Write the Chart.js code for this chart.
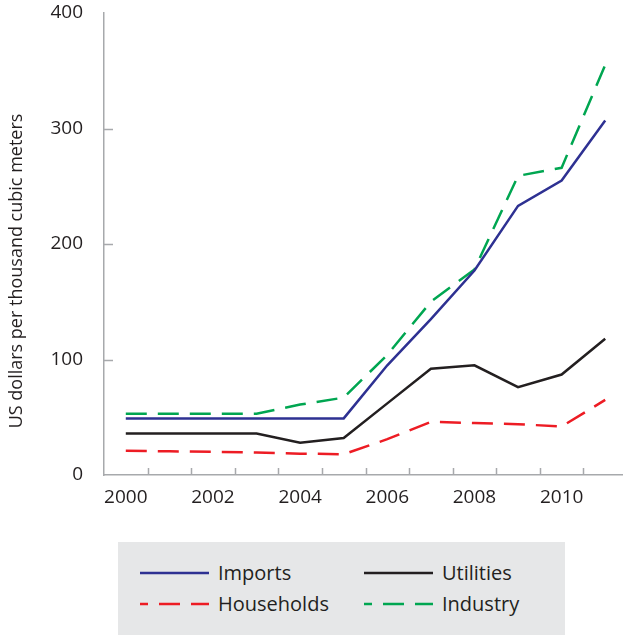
<!DOCTYPE html>
<html>
<head>
<meta charset="utf-8">
<script src="https://cdn.jsdelivr.net/npm/chart.js@4"></script>
<style>
  html, body { margin: 0; padding: 0; background: #fff; overflow: hidden; }
  #wrap { position: relative; width: 623px; height: 635px; overflow: hidden; }
  #chart-box { position: absolute; left: 0; top: 0; width: 640px; height: 540px; }
  #legend { position: absolute; left: 118px; top: 542px; width: 447px; height: 93px; background: #e6e7e8;
            font-family: "Open Sans", sans-serif; font-size: 20px; color: #231f20; }
  .leg-item { position: absolute; height: 26px; line-height: 26px; white-space: nowrap; }
  .leg-item svg { position: absolute; left: 0; top: 9px; }
  .leg-item span { position: absolute; left: 78px; top: 0; }
</style>
</head>
<body>
<div id="wrap">
  <div id="chart-box"><canvas id="gas-chart" width="640" height="540"></canvas></div>
  <div id="legend"></div>
</div>
<script>
// years on the x axis (labels drawn for even years only)
const years = ['2000', '2001', '2002', '2003', '2004', '2005', '2006', '2007', '2008', '2009', '2010', '2011'];

// US dollars per thousand cubic meters
const imports    = [49, 49, 49, 49, 49, 49, 95, 135, 177, 233, 255, 307];
const utilities  = [36, 36, 36, 36, 28, 32, 62, 92, 95, 76, 87, 118];
const households = [21, 20.5, 20, 19.5, 18.5, 18, 31, 46, 45, 44, 42, 65];
const industry   = [53, 53, 53, 53, 61, 67, 104, 150, 178, 259, 266, 355];

const yTicks = [0, 100, 200, 300, 400];

const seriesNames = ['Imports', 'Utilities', 'Households', 'Industry'];
const seriesColors = ['#2e3192', '#231f20', '#ed1c24', '#00a651'];
const seriesDash = [[], [], [21, 11], [21, 11]];
const seriesData = [imports, utilities, households, industry];

const axisColor = '#a7a9ac';
const textColor = '#231f20';
const fontFamily = '"Open Sans", sans-serif';

// inward tick marks + rotated y title
const axisExtras = {
    id: 'axisExtras',
    afterDraw(chart) {
        const { ctx, chartArea, scales } = chart;
        ctx.save();
        ctx.strokeStyle = axisColor;
        ctx.lineWidth = 1.5;
        ctx.beginPath();
        yTicks.slice(1, -1).forEach(v => {
            const y = Math.round(scales.y.getPixelForValue(v)) + 0.5;
            ctx.moveTo(chartArea.left, y);
            ctx.lineTo(chartArea.left + 9, y);
        });
        for (let k = 1; k < years.length; k++) {
            const x = Math.round((scales.x.getPixelForTick(k - 1) + scales.x.getPixelForTick(k)) / 2) + 0.5;
            ctx.moveTo(x, chartArea.bottom);
            ctx.lineTo(x, chartArea.bottom - 7);
        }
        ctx.stroke();

        ctx.translate(17, 271);
        ctx.rotate(-Math.PI / 2);
        ctx.textAlign = 'center';
        ctx.textBaseline = 'middle';
        ctx.fillStyle = textColor;
        ctx.font = '18px ' + fontFamily;
        ctx.fillText('US dollars per thousand cubic meters', 0, 0);
        ctx.restore();
    }
};

new Chart(document.getElementById('gas-chart'), {
    type: 'line',
    data: {
        labels: years,
        datasets: seriesNames.map((name, i) => ({
            label: name,
            data: seriesData[i],
            borderColor: seriesColors[i],
            backgroundColor: seriesColors[i],
            borderDash: seriesDash[i],
            borderWidth: 2.5,
            pointRadius: 0,
            tension: 0,
            fill: false
        }))
    },
    options: {
        responsive: false,
        animation: false,
        layout: { padding: { top: 13, right: 13, left: 0, bottom: 0 } },
        plugins: {
            legend: { display: false },
            tooltip: { enabled: false }
        },
        scales: {
            x: {
                type: 'category',
                offset: true,
                grid: { display: false, drawTicks: false },
                border: { display: true, color: axisColor, width: 1.5 },
                ticks: {
                    autoSkip: false,
                    maxRotation: 0,
                    padding: 11,
                    color: textColor,
                    font: { family: fontFamily, size: 19 },
                    callback: (v, i) => (i % 2 === 0 ? years[i] : '')
                },
                afterFit: s => { s.height = 65; s.paddingLeft = 0; s.paddingRight = 0; }
            },
            y: {
                min: 0,
                max: 400,
                grid: { display: false, drawTicks: false },
                border: { display: true, color: axisColor, width: 1.5 },
                ticks: {
                    stepSize: 100,
                    padding: 21,
                    color: textColor,
                    font: { family: fontFamily, size: 19 }
                },
                afterFit: s => { s.width = 104; s.paddingTop = 0; s.paddingBottom = 0; }
            }
        }
    },
    plugins: [axisExtras]
});

// legend: two columns, order as in the reference
const legendPos = [[22, 18], [246, 18], [22, 49], [246, 49]];
const legendEl = document.getElementById('legend');
seriesNames.forEach((name, idx) => {
    const item = document.createElement('div');
    item.className = 'leg-item';
    item.style.left = legendPos[idx][0] + 'px';
    item.style.top = legendPos[idx][1] + 'px';
    const dash = seriesDash[idx].length ? `stroke-dasharray="${seriesDash[idx].join(' ')}" stroke-dashoffset="13"` : '';
    item.innerHTML = `<svg width="70" height="8"><line x1="0" y1="4" x2="69" y2="4" stroke="${seriesColors[idx]}" stroke-width="2.5" ${dash}/></svg><span>${name}</span>`;
    legendEl.appendChild(item);
});
</script>
</body>
</html>
